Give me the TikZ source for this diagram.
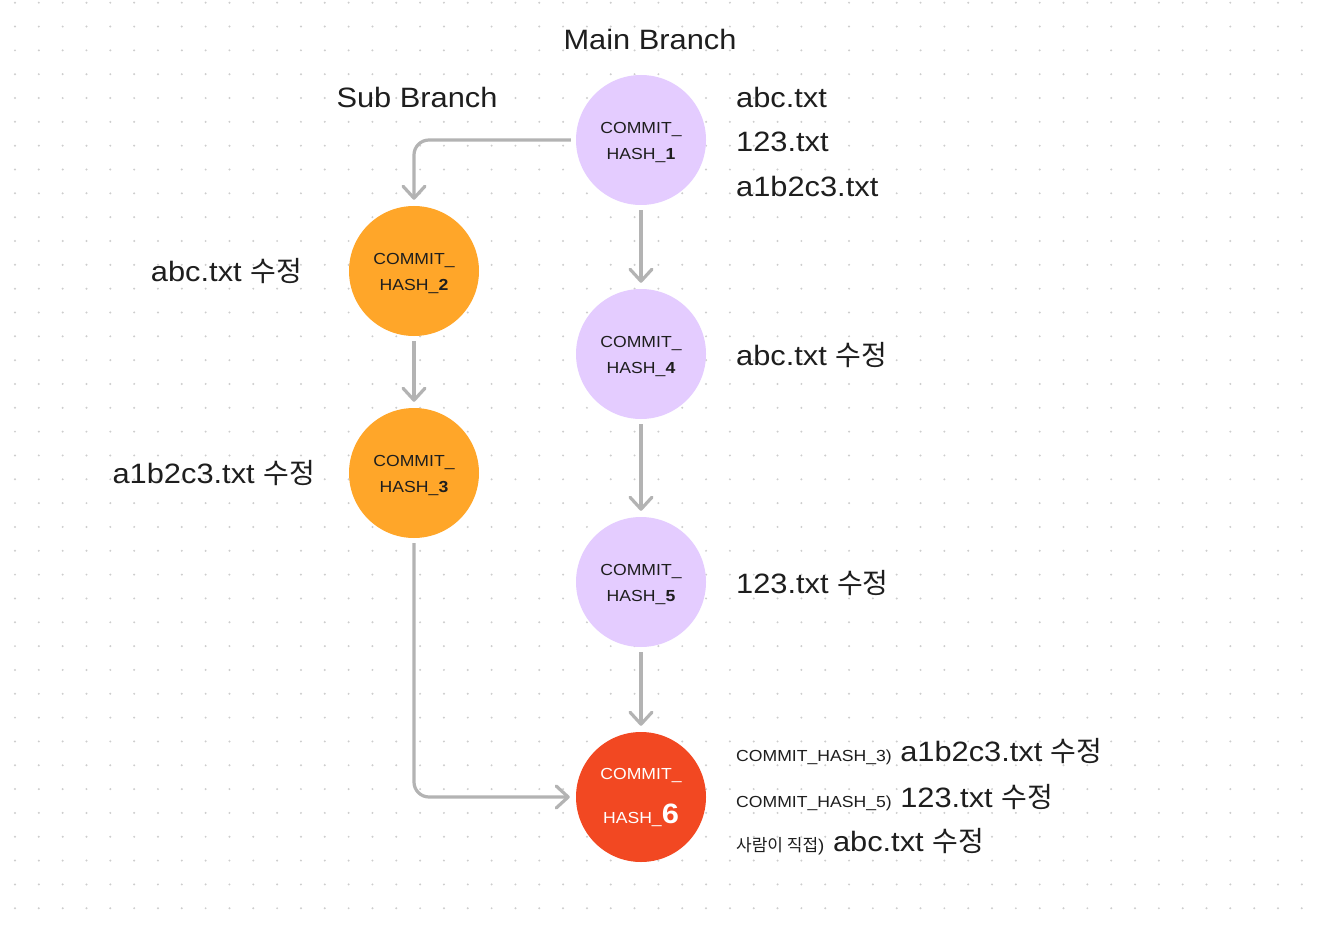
\documentclass[tikz,border=0pt]{standalone}
\usepackage{fontspec}
\setmainfont{Liberation Sans}[FakeStretch=1.1]
\newfontfamily\kr{Noto Sans CJK KR}
\usetikzlibrary{arrows.meta}
\definecolor{txt}{HTML}{1E1E1E}
\definecolor{mainc}{HTML}{E4CCFF}
\definecolor{subc}{HTML}{FFA629}
\definecolor{mergec}{HTML}{F24822}
\definecolor{arrowc}{HTML}{B3B3B3}
\definecolor{dotc}{HTML}{CDCDCD}
\newcommand\ctxt[2]{\raisebox{-7pt}[0pt][0pt]{\parbox{100pt}{\centering\fontsize{16}{26}\selectfont #1\\#2}}}
\begin{document}
\begin{tikzpicture}[x=1pt,y=-1pt,
  commit/.style={circle, minimum size=130pt, inner sep=0pt, align=center,
    font=\fontsize{16}{26}\selectfont, text=txt},
  mainnode/.style={commit, fill=mainc},
  subnode/.style={commit, fill=subc},
  mergenode/.style={commit, fill=mergec, text=white},
  conn/.style={draw=arrowc, line width=3.2pt,
    -{Straight Barb[length=12pt,width=22pt,round]},
    shorten <=5pt, shorten >=6pt, rounded corners=15pt},
  lbl/.style={font=\fontsize{28}{34}\selectfont, text=txt, inner sep=0pt}
]
\fill[white] (0,0) rectangle (1320,928);
\useasboundingbox (0,0) rectangle (1320,928);
\foreach \i in {0,...,54}
  \foreach \j in {0,...,38}
    \fill[dotc] ({15+23.83*\i},{2.7+23.83*\j}) circle (1.1);

% commits
\node[mainnode] (c1) at (641,140) {\ctxt{COMMIT\_}{HASH\_\textbf{1}}};
\node[subnode] (c2) at (414,271) {\ctxt{COMMIT\_}{HASH\_\textbf{2}}};
\node[subnode] (c3) at (414,473) {\ctxt{COMMIT\_}{HASH\_\textbf{3}}};
\node[mainnode] (c4) at (641,354) {\ctxt{COMMIT\_}{HASH\_\textbf{4}}};
\node[mainnode] (c5) at (641,582) {\ctxt{COMMIT\_}{HASH\_\textbf{5}}};
\node[mergenode] (c6) at (641,797) {COMMIT\_\\[18pt]HASH\_{\fontsize{28}{28}\selectfont\bfseries 6}};

% connectors
\draw[conn] (c1.west) -| (c2.north);
\draw[conn] (c2.south) -- (c3.north);
\draw[conn] (c1.south) -- (c4.north);
\draw[conn] (c4.south) -- (c5.north);
\draw[conn] (c5.south) -- (c6.north);
\draw[conn] (c3.south) |- (c6.west);

% titles
\node[lbl, anchor=base] (tmain) at (650,50) {Main Branch};
\node[lbl, anchor=base] (tsub) at (417,108) {Sub Branch};

% file labels
\node[lbl, anchor=base west] (f1) at (736,108) {abc.txt};
\node[lbl, anchor=base west] (f2) at (736,152) {123.txt};
\node[lbl, anchor=base west] (f3) at (736,197) {a1b2c3.txt};
\node[lbl, anchor=base east] (l2) at (302,281) {abc.txt {\kr 수정}};
\node[lbl, anchor=base east] (l3) at (315,483) {a1b2c3.txt {\kr 수정}};
\node[lbl, anchor=base west] (l4) at (736,365) {abc.txt {\kr 수정}};
\node[lbl, anchor=base west] (l5) at (736,593) {123.txt {\kr 수정}};

% merge labels
\node[lbl, anchor=base west] (m1) at (736,761) {{\fontsize{16}{20}\selectfont COMMIT\_HASH\_3)} a1b2c3.txt {\kr 수정}};
\node[lbl, anchor=base west] (m2) at (736,807) {{\fontsize{16}{20}\selectfont COMMIT\_HASH\_5)} 123.txt {\kr 수정}};
\node[lbl, anchor=base west] (m3) at (736,851) {{\fontsize{17}{20}\selectfont{\kr 사람이 직접})} abc.txt {\kr 수정}};
\end{tikzpicture}
\end{document}
